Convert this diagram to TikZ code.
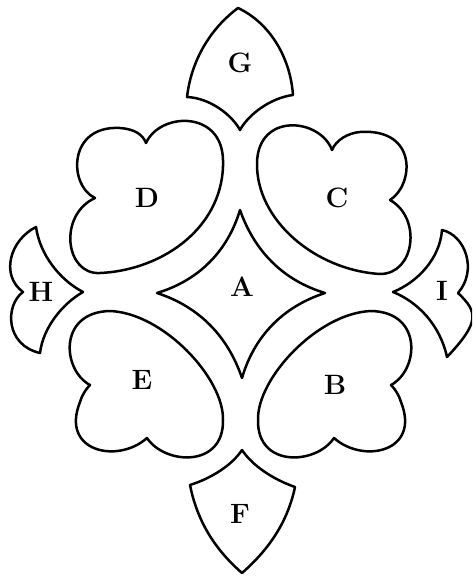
\documentclass[tikz,border=0pt]{standalone}
\begin{document}
\begin{tikzpicture}[x=1pt,y=-1pt,
  bed/.style={draw=black, line width=2.5pt, line join=round, line cap=round},
  lbl/.style={font=\fontsize{28}{28}\selectfont\bfseries, inner sep=0pt}]
\useasboundingbox (0,0) rectangle (472,576);
\clip (0,0) rectangle (472,576);
% A
\draw[bed] (157,293) .. controls (200,280) and (228,250) .. (240,210)
  .. controls (254,250) and (282,280) .. (325,293)
  .. controls (282,307) and (254,337) .. (242,378)
  .. controls (228,337) and (200,307) .. cycle;
% G
\draw[bed] (240,130) .. controls (232,115) and (210,98) .. (187,97)
  .. controls (192,55) and (215,25) .. (238,8)
  .. controls (268,22) and (290,55) .. (293,95)
  .. controls (270,98) and (248,115) .. cycle;
% F
\draw[bed] (242,450) .. controls (232,465) and (212,478) .. (190,485)
  .. controls (198,525) and (218,552) .. (242,573)
  .. controls (266,552) and (287,525) .. (295,487)
  .. controls (272,479) and (252,465) .. cycle;
% H
\draw[bed] (36,227) .. controls (40,255) and (60,280) .. (83,292)
  .. controls (62,304) and (43,328) .. (40,353)
  .. controls (5,345) and (5,305) .. (23,292)
  .. controls (0,275) and (10,240) .. cycle;
% I
\draw[bed] (442,230) .. controls (440,258) and (418,282) .. (393,292)
  .. controls (418,302) and (440,325) .. (447,357)
  .. controls (480,322) and (478,312) .. (458,293)
  .. controls (478,270) and (465,235) .. cycle;
% D
\draw[bed] (146,143) .. controls (160,112) and (222,110) .. (223,160)
  .. controls (225,225) and (165,270) .. (100,273)
  .. controls (65,275) and (58,215) .. (95,198)
  .. controls (68,185) and (68,125) .. (120,128)
  .. controls (135,129) and (143,135) .. cycle;
% C
\draw[bed] (332,150) .. controls (320,118) and (258,112) .. (257,163)
  .. controls (256,220) and (315,270) .. (380,274)
  .. controls (415,274) and (422,218) .. (390,200)
  .. controls (414,185) and (418,128) .. (360,132)
  .. controls (348,133) and (336,140) .. cycle;
% E
\draw[bed] (90,385) .. controls (62,370) and (58,312) .. (110,311)
  .. controls (163,313) and (224,378) .. (223,420)
  .. controls (224,468) and (165,465) .. (147,438)
  .. controls (118,464) and (60,452) .. (80,402)
  .. controls (82,395) and (86,389) .. cycle;
% B (mirror of E)
\begin{scope}[xshift=481pt, xscale=-1]
\draw[bed] (90,385) .. controls (62,370) and (58,312) .. (110,311)
  .. controls (163,313) and (224,378) .. (223,420)
  .. controls (224,468) and (165,465) .. (147,438)
  .. controls (118,464) and (60,452) .. (80,402)
  .. controls (82,395) and (86,389) .. cycle;
\end{scope}
% labels
\node[lbl] (la) at (242,287) {A};
\node[lbl] (lb) at (335,385) {B};
\node[lbl] (lc) at (337,198) {C};
\node[lbl] (ld) at (147,198) {D};
\node[lbl] (le) at (142,380) {E};
\node[lbl] (lf) at (240,514) {F};
\node[lbl] (lg) at (240,63) {G};
\node[lbl] (lh) at (41,292) {H};
\node[lbl] (li) at (442,291) {I};
\end{tikzpicture}
\end{document}
